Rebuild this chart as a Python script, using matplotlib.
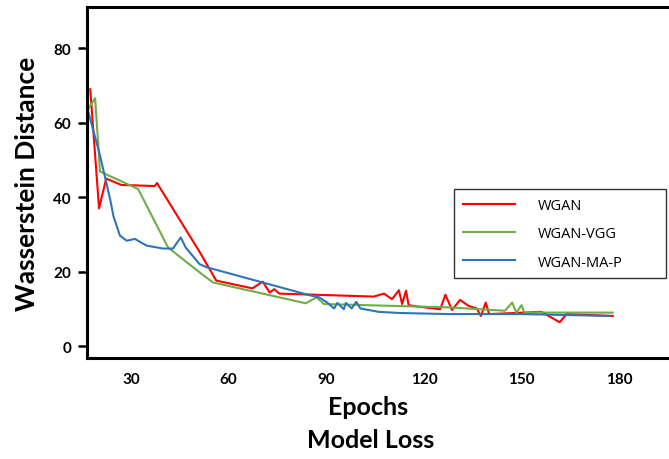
import matplotlib
matplotlib.use('Agg')
import matplotlib.pyplot as plt

# values
wgan_x = [17.5, 20.2, 22.4, 27.0, 37.3, 38.0, 51.1, 56.2, 67.3, 70.5, 72.6, 74.0, 75.6,
          104.6, 107.7, 110.2, 112.3, 113.3, 114.5, 115.3, 117.4, 125.0, 126.6, 128.6,
          131.1, 133.7, 136.2, 137.5, 139.0, 140.0, 156.1, 161.7, 163.8, 178.0]
wgan_y = [69.0, 37.0, 45.0, 43.3, 43.0, 43.8, 25.3, 17.6, 15.5, 17.3, 14.4, 15.3, 14.1,
          13.3, 14.1, 12.6, 15.0, 11.3, 14.9, 11.0, 10.7, 9.9, 13.8, 9.7,
          12.4, 10.8, 10.1, 8.1, 11.7, 8.6, 9.2, 6.4, 8.6, 8.1]

vgg_x = [16.5, 19.0, 20.5, 32.2, 41.4, 51.1, 55.2, 83.7, 87.0, 89.3, 127.6, 144.9,
         147.1, 148.4, 150.0, 150.8, 178.0]
vgg_y = [63.2, 66.6, 46.9, 42.2, 26.5, 19.8, 17.1, 11.5, 13.1, 11.3, 10.4, 9.5,
         11.7, 9.0, 11.0, 9.0, 9.0]

map_x = [16.6, 20.5, 23.6, 24.6, 26.6, 28.7, 31.2, 34.8, 39.9, 42.9, 45.3, 46.8,
         51.1, 53.2, 84.7, 87.8, 90.3, 92.4, 93.4, 95.4, 96.0, 97.8, 99.2, 100.5,
         106.1, 112.3, 127.6, 150.0, 177.0]
map_y = [63.9, 51.2, 39.5, 35.0, 29.7, 28.3, 28.8, 27.0, 26.2, 26.2, 29.2, 26.5,
         22.0, 21.2, 13.7, 13.1, 11.7, 10.1, 11.6, 9.9, 11.6, 10.1, 11.9, 10.1,
         9.2, 8.9, 8.6, 8.6, 8.1]

x_ticks = [30, 60, 90, 120, 150, 180]
y_ticks = [0, 20, 40, 60, 80]
labels = ['WGAN', 'WGAN-VGG', 'WGAN-MA-P']

plt.rcParams['font.family'] = ['Lato', 'DejaVu Sans']

fig = plt.figure(figsize=(6.69, 4.6), dpi=100)
ax = fig.add_axes([87 / 669, 101 / 460, 585 / 669, 351 / 460])

ax.plot(wgan_x, wgan_y, color='#FF0000', lw=1.5, label=labels[0])
ax.plot(vgg_x, vgg_y, color='#70AD47', lw=1.5, label=labels[1])
ax.plot(map_x, map_y, color='#2E75B6', lw=1.5, label=labels[2])

ax.set_xlim(16.5, 196.2)
ax.set_ylim(-3.2, 91.1)
ax.set_xticks(x_ticks)
ax.set_yticks(y_ticks)

for s in ['left', 'bottom', 'top']:
    ax.spines[s].set_linewidth(2.2)
ax.spines['right'].set_visible(False)

ax.tick_params(axis='y', direction='out', length=6.5, width=1.8, pad=5, labelsize=11)
ax.tick_params(axis='x', length=0, pad=10, labelsize=11)
for t in ax.get_xticklabels() + ax.get_yticklabels():
    t.set_fontweight('bold')

ax.set_xlabel('Epochs', fontsize=18, fontweight='bold', va='center')
ax.xaxis.set_label_coords((368 - 87) / 585, (359 - 408) / 351)
ax.set_ylabel('Wasserstein Distance', fontsize=19, fontweight='bold', va='center')
ax.yaxis.set_label_coords((27 - 87) / 585, (359 - 184) / 351)

fig.text(371 / 669, 1 - 441 / 460, 'Model Loss', fontsize=18, fontweight='bold',
         ha='center', va='center')

leg = ax.legend(loc='upper left', bbox_to_anchor=((454 - 87) / 585, (359 - 190) / 351,
                                                 212 / 585, 0.0),
                mode='expand', alignment='left', frameon=True, fancybox=False,
                handlelength=3.6, handletextpad=1.55, labelspacing=0.92,
                borderpad=0.6, borderaxespad=0,
                prop={'family': ['Open Sans', 'DejaVu Sans'], 'size': 10.5})
leg.get_frame().set_edgecolor('black')
leg.get_frame().set_linewidth(1.0)

fig.savefig('out.png', dpi=100)
